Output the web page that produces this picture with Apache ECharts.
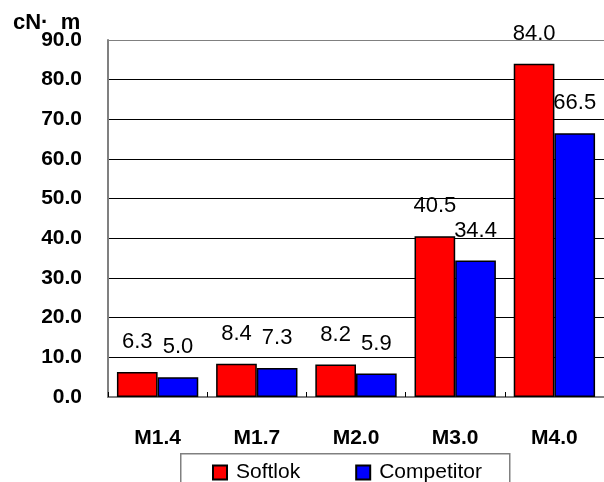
<!DOCTYPE html>
<html><head><meta charset="utf-8">
<script src="https://cdn.jsdelivr.net/npm/echarts@6/dist/echarts.min.js"></script>
<style>html,body{margin:0;padding:0;background:#fff}#c{width:604px;height:482px}</style>
</head><body><div id="c"></div>
<script>
const categories = ['M1.4', 'M1.7', 'M2.0', 'M3.0', 'M4.0'];
const softlok = [6.3, 8.4, 8.2, 40.5, 84.0];
const competitor = [5.0, 7.3, 5.9, 34.4, 66.5];
const yMin = 0, yMax = 90, yStep = 10;
const unitLabel = 'cN\u00B7  m';

const FONT = 'Liberation Sans, Arial, sans-serif';
const chart = echarts.init(document.getElementById('c'), null, {renderer: 'canvas'});
const splitColors = [];
for (let v = yMin; v <= yMax; v += yStep) splitColors.push(v === yMax ? '#808080' : '#000');

const labelCfg = {
  show: true, position: 'top', distance: 19,
  fontFamily: FONT, fontSize: 22, color: '#000',
  formatter: p => Number(p.value).toFixed(1)
};

chart.setOption({
  animation: false,
  backgroundColor: '#fff',
  title: {
    text: unitLabel, left: 8, top: 7,
    textStyle: {fontFamily: FONT, fontSize: 22, fontWeight: 'bold', color: '#000'}
  },
  grid: {left: 108, right: -4, top: 40, bottom: 85, containLabel: false},
  legend: {
    left: 212, top: 462, padding: 0, itemGap: 55,
    itemWidth: 14, itemHeight: 14, icon: 'rect',
    textStyle: {fontFamily: FONT, fontSize: 21, color: '#000', padding: [0, 0, 0, 4]},
    data: ['Softlok', 'Competitor']
  },
  graphic: [{
    type: 'rect', left: 180, top: 453, z: -1,
    shape: {width: 329, height: 40},
    style: {fill: '#fff', stroke: '#808080', lineWidth: 1.5}
  }],
  xAxis: {
    type: 'category', data: categories,
    axisLine: {lineStyle: {color: '#808080', width: 2}},
    axisTick: {show: true, inside: true, length: 5, lineStyle: {color: '#000'}},
    axisLabel: {margin: 31, fontFamily: FONT, fontSize: 21, fontWeight: 'bold', color: '#000'}
  },
  yAxis: {
    type: 'value', min: yMin, max: yMax, interval: yStep,
    axisLine: {show: true, lineStyle: {color: '#808080', width: 2}},
    axisTick: {show: false},
    splitLine: {show: true, lineStyle: {color: splitColors, width: 1}},
    axisLabel: {margin: 26, fontFamily: FONT, fontSize: 21, fontWeight: 'bold', color: '#000',
      formatter: v => v.toFixed(1)}
  },
  series: [
    {name: 'Softlok', type: 'bar', data: softlok, barGap: '0%', barCategoryGap: '18%',
      itemStyle: {color: '#ff0000', borderColor: '#000', borderWidth: 1.5}, label: labelCfg},
    {name: 'Competitor', type: 'bar', data: competitor, barGap: '0%', barCategoryGap: '18%',
      itemStyle: {color: '#0000ff', borderColor: '#000', borderWidth: 1.5}, label: labelCfg}
  ]
});
</script></body></html>
